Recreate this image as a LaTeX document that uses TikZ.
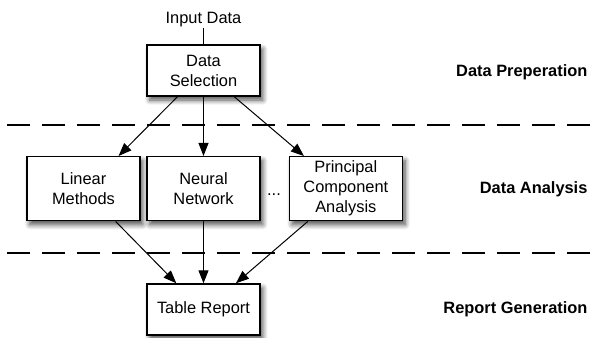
\documentclass[tikz,border=0pt]{standalone}
\usepackage{fontspec}
\setmainfont{Liberation Sans}
\usetikzlibrary{arrows.meta,shadows,shadows.blur}
\newcommand{\boxwidth}{56.5pt}
\newcommand{\thinline}{0.5pt}
\tikzset{
  box/.style={draw, fill=white, line width=0.75pt, inner sep=0pt, align=center,
    minimum width=\boxwidth, minimum height=25.5pt,
    blur shadow={shadow xshift=1.4pt, shadow yshift=-2pt, shadow blur radius=2.5pt,
      shadow blur steps=8, shadow opacity=70}},
  flow/.style={line width=\thinline, -{Triangle[length=6.5pt,width=5pt]}},
  stagesep/.style={line width=0.55pt, dash pattern=on 11.5pt off 6pt},
  stage/.style={font=\fontsize{8.2}{10}\selectfont\bfseries, anchor=base east, inner sep=0pt},
  every node/.append style={font=\fontsize{8.2}{10}\selectfont}
}

\begin{document}
\begin{tikzpicture}
\useasboundingbox (0,0) rectangle (10.403,-5.922);
%input
\node[inner sep=0pt, anchor=base] (input) at (3.576,-0.42) {Input Data};
\node[box] (ds) at (3.576,-1.239) {Data\\Selection};
\draw[line width=\thinline] (input) -- (ds);
%analysis
\node[box, minimum height=32pt] (lm) at (1.467,-3.316) {Linear\\Methods};
\node[box, minimum height=32pt] (nn) at (3.576,-3.316) {Neural\\Network};
\node[box, minimum height=32pt] (pca) at (6.077,-3.316) {Principal\\Component\\Analysis};
\node[anchor=base, inner sep=0pt] (dots) at (4.815,-3.44) {...};
%report
\node[box] (tr) at (3.576,-5.439) {Table Report};
\draw[flow] (ds) -- (lm.43);
\draw[flow] (ds) -- (nn.north);
\draw[flow] (ds) -- (pca.142);
\draw[flow] (lm) -- (tr.136);
\draw[flow] (nn) -- (tr.north);
\draw[flow] (pca) -- (tr.39);
%stages
\draw[stagesep] (0.123,-2.197) -- (10.403,-2.197);
\draw[stagesep] (0.123,-4.446) -- (10.403,-4.446);
\node[stage] (prep) at (10.33,-1.353) {Data Preperation};
\node[stage] (anal) at (10.33,-3.409) {Data Analysis};
\node[stage] (gen) at (10.33,-5.506) {Report Generation};
\end{tikzpicture}
\end{document}
